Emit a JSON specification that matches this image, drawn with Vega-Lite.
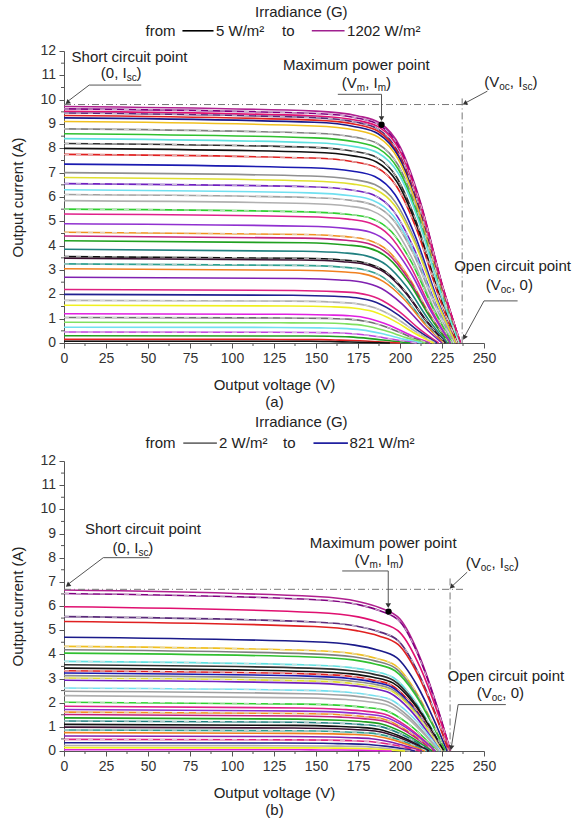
{
"$schema": "https://vega.github.io/schema/vega-lite/v6.json",
"background": "white",
"padding": {"left": 10, "top": 4, "right": 4, "bottom": 4},
"spacing": 6,
"config": {
 "view": {"stroke": null},
 "font": "Liberation Sans",
 "axis": {"grid": false, "labelOverlap": false, "labelFlush": false, "labelFont": "Liberation Sans", "labelFontSize": 14, "labelColor": "#333", "titleFont": "Liberation Sans", "titleFontSize": 15, "titleFontWeight": "normal", "titleColor": "#222", "domainColor": "#555", "tickColor": "#555", "tickSize": 5, "labelPadding": 3}
},
"datasets": {
 "ca": [
{"k":1,"v":0,"i":9.72},{"k":1,"v":150,"i":9.53},{"k":1,"v":175,"i":9.33},{"k":1,"v":188,"i":9.04},{"k":1,"v":200,"i":8.07},{"k":1,"v":212,"i":5.83},{"k":1,"v":225,"i":2.43},{"k":1,"v":236,"i":0},
{"k":2,"v":0,"i":9.62},{"k":2,"v":150,"i":9.43},{"k":2,"v":175,"i":9.24},{"k":2,"v":188,"i":8.95},{"k":2,"v":200,"i":7.98},{"k":2,"v":212,"i":5.77},{"k":2,"v":225,"i":2.41},{"k":2,"v":236,"i":0},
{"k":3,"v":0,"i":9.52},{"k":3,"v":150,"i":9.33},{"k":3,"v":175,"i":9.14},{"k":3,"v":188,"i":8.85},{"k":3,"v":200,"i":7.9},{"k":3,"v":212,"i":5.71},{"k":3,"v":225,"i":2.38},{"k":3,"v":236,"i":0},
{"k":4,"v":0,"i":9.45},{"k":4,"v":149,"i":9.26},{"k":4,"v":174,"i":9.07},{"k":4,"v":187,"i":8.79},{"k":4,"v":199,"i":7.84},{"k":4,"v":211,"i":5.67},{"k":4,"v":224,"i":2.36},{"k":4,"v":235,"i":0},
{"k":5,"v":0,"i":9.35},{"k":5,"v":149,"i":9.16},{"k":5,"v":174,"i":8.98},{"k":5,"v":187,"i":8.7},{"k":5,"v":199,"i":7.76},{"k":5,"v":211,"i":5.61},{"k":5,"v":224,"i":2.34},{"k":5,"v":235,"i":0},
{"k":6,"v":0,"i":9.25},{"k":6,"v":149,"i":9.07},{"k":6,"v":174,"i":8.88},{"k":6,"v":187,"i":8.6},{"k":6,"v":199,"i":7.68},{"k":6,"v":211,"i":5.55},{"k":6,"v":224,"i":2.31},{"k":6,"v":235,"i":0},
{"k":7,"v":0,"i":9.1},{"k":7,"v":149,"i":8.92},{"k":7,"v":174,"i":8.74},{"k":7,"v":187,"i":8.46},{"k":7,"v":199,"i":7.55},{"k":7,"v":211,"i":5.46},{"k":7,"v":224,"i":2.28},{"k":7,"v":235,"i":0},
{"k":8,"v":0,"i":8.8},{"k":8,"v":149,"i":8.62},{"k":8,"v":174,"i":8.45},{"k":8,"v":187,"i":8.18},{"k":8,"v":199,"i":7.3},{"k":8,"v":211,"i":5.28},{"k":8,"v":224,"i":2.2},{"k":8,"v":235,"i":0},
{"k":9,"v":0,"i":8.6},{"k":9,"v":149,"i":8.43},{"k":9,"v":174,"i":8.26},{"k":9,"v":187,"i":8.0},{"k":9,"v":199,"i":7.14},{"k":9,"v":211,"i":5.16},{"k":9,"v":224,"i":2.15},{"k":9,"v":235,"i":0},
{"k":10,"v":0,"i":8.4},{"k":10,"v":149,"i":8.23},{"k":10,"v":174,"i":8.06},{"k":10,"v":187,"i":7.81},{"k":10,"v":199,"i":6.97},{"k":10,"v":211,"i":5.04},{"k":10,"v":224,"i":2.1},{"k":10,"v":235,"i":0},
{"k":11,"v":0,"i":8.2},{"k":11,"v":148,"i":8.04},{"k":11,"v":173,"i":7.87},{"k":11,"v":186,"i":7.63},{"k":11,"v":198,"i":6.81},{"k":11,"v":210,"i":4.92},{"k":11,"v":223,"i":2.05},{"k":11,"v":234,"i":0},
{"k":12,"v":0,"i":8.0},{"k":12,"v":148,"i":7.84},{"k":12,"v":173,"i":7.68},{"k":12,"v":186,"i":7.44},{"k":12,"v":198,"i":6.64},{"k":12,"v":210,"i":4.8},{"k":12,"v":223,"i":2.0},{"k":12,"v":234,"i":0},
{"k":13,"v":0,"i":7.75},{"k":13,"v":148,"i":7.6},{"k":13,"v":173,"i":7.44},{"k":13,"v":186,"i":7.21},{"k":13,"v":198,"i":6.43},{"k":13,"v":210,"i":4.65},{"k":13,"v":223,"i":1.94},{"k":13,"v":234,"i":0},
{"k":14,"v":0,"i":7.35},{"k":14,"v":147,"i":7.2},{"k":14,"v":172,"i":7.06},{"k":14,"v":185,"i":6.84},{"k":14,"v":197,"i":6.1},{"k":14,"v":209,"i":4.41},{"k":14,"v":222,"i":1.84},{"k":14,"v":233,"i":0},
{"k":15,"v":0,"i":7.0},{"k":15,"v":147,"i":6.86},{"k":15,"v":172,"i":6.72},{"k":15,"v":185,"i":6.51},{"k":15,"v":197,"i":5.81},{"k":15,"v":209,"i":4.2},{"k":15,"v":222,"i":1.75},{"k":15,"v":233,"i":0},
{"k":16,"v":0,"i":6.8},{"k":16,"v":147,"i":6.66},{"k":16,"v":172,"i":6.53},{"k":16,"v":185,"i":6.32},{"k":16,"v":197,"i":5.64},{"k":16,"v":209,"i":4.08},{"k":16,"v":222,"i":1.7},{"k":16,"v":233,"i":0},
{"k":17,"v":0,"i":6.55},{"k":17,"v":146,"i":6.42},{"k":17,"v":171,"i":6.29},{"k":17,"v":184,"i":6.09},{"k":17,"v":196,"i":5.44},{"k":17,"v":208,"i":3.93},{"k":17,"v":221,"i":1.64},{"k":17,"v":232,"i":0},
{"k":18,"v":0,"i":6.3},{"k":18,"v":146,"i":6.17},{"k":18,"v":171,"i":6.05},{"k":18,"v":184,"i":5.86},{"k":18,"v":196,"i":5.23},{"k":18,"v":208,"i":3.78},{"k":18,"v":221,"i":1.58},{"k":18,"v":232,"i":0},
{"k":19,"v":0,"i":6.1},{"k":19,"v":146,"i":5.98},{"k":19,"v":171,"i":5.86},{"k":19,"v":184,"i":5.67},{"k":19,"v":196,"i":5.06},{"k":19,"v":208,"i":3.66},{"k":19,"v":221,"i":1.53},{"k":19,"v":232,"i":0},
{"k":20,"v":0,"i":5.85},{"k":20,"v":145,"i":5.73},{"k":20,"v":170,"i":5.62},{"k":20,"v":183,"i":5.44},{"k":20,"v":195,"i":4.86},{"k":20,"v":207,"i":3.51},{"k":20,"v":220,"i":1.46},{"k":20,"v":231,"i":0},
{"k":21,"v":0,"i":5.5},{"k":21,"v":145,"i":5.39},{"k":21,"v":170,"i":5.28},{"k":21,"v":183,"i":5.12},{"k":21,"v":195,"i":4.57},{"k":21,"v":207,"i":3.3},{"k":21,"v":220,"i":1.38},{"k":21,"v":231,"i":0},
{"k":22,"v":0,"i":5.3},{"k":22,"v":144,"i":5.19},{"k":22,"v":169,"i":5.09},{"k":22,"v":182,"i":4.93},{"k":22,"v":194,"i":4.4},{"k":22,"v":206,"i":3.18},{"k":22,"v":219,"i":1.33},{"k":22,"v":230,"i":0},
{"k":23,"v":0,"i":4.9},{"k":23,"v":144,"i":4.8},{"k":23,"v":169,"i":4.7},{"k":23,"v":182,"i":4.56},{"k":23,"v":194,"i":4.07},{"k":23,"v":206,"i":2.94},{"k":23,"v":219,"i":1.23},{"k":23,"v":230,"i":0},
{"k":24,"v":0,"i":4.55},{"k":24,"v":143,"i":4.46},{"k":24,"v":168,"i":4.37},{"k":24,"v":181,"i":4.23},{"k":24,"v":193,"i":3.78},{"k":24,"v":205,"i":2.73},{"k":24,"v":218,"i":1.14},{"k":24,"v":229,"i":0},
{"k":25,"v":0,"i":4.4},{"k":25,"v":143,"i":4.31},{"k":25,"v":168,"i":4.22},{"k":25,"v":181,"i":4.09},{"k":25,"v":193,"i":3.65},{"k":25,"v":205,"i":2.64},{"k":25,"v":218,"i":1.1},{"k":25,"v":229,"i":0},
{"k":26,"v":0,"i":4.2},{"k":26,"v":143,"i":4.12},{"k":26,"v":168,"i":4.03},{"k":26,"v":181,"i":3.91},{"k":26,"v":193,"i":3.49},{"k":26,"v":205,"i":2.52},{"k":26,"v":218,"i":1.05},{"k":26,"v":229,"i":0},
{"k":27,"v":0,"i":3.85},{"k":27,"v":142,"i":3.77},{"k":27,"v":167,"i":3.7},{"k":27,"v":180,"i":3.58},{"k":27,"v":192,"i":3.2},{"k":27,"v":204,"i":2.31},{"k":27,"v":217,"i":0.96},{"k":27,"v":228,"i":0},
{"k":28,"v":0,"i":3.55},{"k":28,"v":141,"i":3.48},{"k":28,"v":166,"i":3.41},{"k":28,"v":179,"i":3.3},{"k":28,"v":191,"i":2.95},{"k":28,"v":203,"i":2.13},{"k":28,"v":216,"i":0.89},{"k":28,"v":227,"i":0},
{"k":29,"v":0,"i":3.48},{"k":29,"v":141,"i":3.41},{"k":29,"v":166,"i":3.34},{"k":29,"v":179,"i":3.24},{"k":29,"v":191,"i":2.89},{"k":29,"v":203,"i":2.09},{"k":29,"v":216,"i":0.87},{"k":29,"v":227,"i":0},
{"k":30,"v":0,"i":3.25},{"k":30,"v":140,"i":3.19},{"k":30,"v":165,"i":3.12},{"k":30,"v":178,"i":3.02},{"k":30,"v":190,"i":2.7},{"k":30,"v":202,"i":1.95},{"k":30,"v":215,"i":0.81},{"k":30,"v":226,"i":0},
{"k":31,"v":0,"i":3.05},{"k":31,"v":140,"i":2.99},{"k":31,"v":165,"i":2.93},{"k":31,"v":178,"i":2.84},{"k":31,"v":190,"i":2.53},{"k":31,"v":202,"i":1.83},{"k":31,"v":215,"i":0.76},{"k":31,"v":226,"i":0},
{"k":32,"v":0,"i":2.7},{"k":32,"v":139,"i":2.65},{"k":32,"v":164,"i":2.59},{"k":32,"v":177,"i":2.51},{"k":32,"v":189,"i":2.24},{"k":32,"v":201,"i":1.62},{"k":32,"v":214,"i":0.68},{"k":32,"v":225,"i":0},
{"k":33,"v":0,"i":2.2},{"k":33,"v":137,"i":2.16},{"k":33,"v":162,"i":2.11},{"k":33,"v":175,"i":2.05},{"k":33,"v":187,"i":1.83},{"k":33,"v":199,"i":1.32},{"k":33,"v":212,"i":0.55},{"k":33,"v":223,"i":0},
{"k":34,"v":0,"i":2.0},{"k":34,"v":136,"i":1.96},{"k":34,"v":161,"i":1.92},{"k":34,"v":174,"i":1.86},{"k":34,"v":186,"i":1.66},{"k":34,"v":198,"i":1.2},{"k":34,"v":211,"i":0.5},{"k":34,"v":222,"i":0},
{"k":35,"v":0,"i":1.75},{"k":35,"v":135,"i":1.72},{"k":35,"v":160,"i":1.68},{"k":35,"v":173,"i":1.63},{"k":35,"v":185,"i":1.45},{"k":35,"v":197,"i":1.05},{"k":35,"v":210,"i":0.44},{"k":35,"v":221,"i":0},
{"k":36,"v":0,"i":1.55},{"k":36,"v":134,"i":1.52},{"k":36,"v":159,"i":1.49},{"k":36,"v":172,"i":1.44},{"k":36,"v":184,"i":1.29},{"k":36,"v":196,"i":0.93},{"k":36,"v":209,"i":0.39},{"k":36,"v":220,"i":0},
{"k":37,"v":0,"i":1.2},{"k":37,"v":132,"i":1.18},{"k":37,"v":157,"i":1.15},{"k":37,"v":170,"i":1.12},{"k":37,"v":182,"i":1.0},{"k":37,"v":194,"i":0.72},{"k":37,"v":207,"i":0.3},{"k":37,"v":218,"i":0},
{"k":38,"v":0,"i":1.05},{"k":38,"v":131,"i":1.03},{"k":38,"v":156,"i":1.01},{"k":38,"v":169,"i":0.98},{"k":38,"v":181,"i":0.87},{"k":38,"v":193,"i":0.63},{"k":38,"v":206,"i":0.26},{"k":38,"v":217,"i":0},
{"k":39,"v":0,"i":0.85},{"k":39,"v":129,"i":0.83},{"k":39,"v":154,"i":0.82},{"k":39,"v":167,"i":0.79},{"k":39,"v":179,"i":0.71},{"k":39,"v":191,"i":0.51},{"k":39,"v":204,"i":0.21},{"k":39,"v":215,"i":0},
{"k":40,"v":0,"i":0.65},{"k":40,"v":127,"i":0.64},{"k":40,"v":152,"i":0.62},{"k":40,"v":165,"i":0.6},{"k":40,"v":177,"i":0.54},{"k":40,"v":189,"i":0.39},{"k":40,"v":202,"i":0.16},{"k":40,"v":213,"i":0},
{"k":41,"v":0,"i":0.45},{"k":41,"v":124,"i":0.44},{"k":41,"v":149,"i":0.43},{"k":41,"v":162,"i":0.42},{"k":41,"v":174,"i":0.37},{"k":41,"v":186,"i":0.27},{"k":41,"v":199,"i":0.11},{"k":41,"v":210,"i":0},
{"k":42,"v":0,"i":0.3},{"k":42,"v":120,"i":0.29},{"k":42,"v":145,"i":0.29},{"k":42,"v":158,"i":0.28},{"k":42,"v":170,"i":0.25},{"k":42,"v":182,"i":0.18},{"k":42,"v":195,"i":0.08},{"k":42,"v":206,"i":0},
{"k":43,"v":0,"i":0.15},{"k":43,"v":114,"i":0.15},{"k":43,"v":139,"i":0.14},{"k":43,"v":152,"i":0.14},{"k":43,"v":164,"i":0.12},{"k":43,"v":176,"i":0.09},{"k":43,"v":189,"i":0.04},{"k":43,"v":200,"i":0},
{"k":44,"v":0,"i":0.07},{"k":44,"v":108,"i":0.07},{"k":44,"v":133,"i":0.07},{"k":44,"v":146,"i":0.07},{"k":44,"v":158,"i":0.06},{"k":44,"v":170,"i":0.04},{"k":44,"v":183,"i":0.02},{"k":44,"v":194,"i":0}
 ],
 "cb": [
{"k":1,"v":0,"i":6.66},{"k":1,"v":150,"i":6.39},{"k":1,"v":175,"i":6.19},{"k":1,"v":188,"i":5.93},{"k":1,"v":200,"i":5.46},{"k":1,"v":212,"i":3.86},{"k":1,"v":222,"i":1.86},{"k":1,"v":230,"i":0},
{"k":2,"v":0,"i":6.52},{"k":2,"v":150,"i":6.26},{"k":2,"v":175,"i":6.06},{"k":2,"v":188,"i":5.8},{"k":2,"v":200,"i":5.35},{"k":2,"v":212,"i":3.78},{"k":2,"v":222,"i":1.83},{"k":2,"v":230,"i":0},
{"k":3,"v":0,"i":5.97},{"k":3,"v":150,"i":5.73},{"k":3,"v":175,"i":5.55},{"k":3,"v":188,"i":5.31},{"k":3,"v":200,"i":4.9},{"k":3,"v":212,"i":3.46},{"k":3,"v":222,"i":1.67},{"k":3,"v":230,"i":0},
{"k":4,"v":0,"i":5.56},{"k":4,"v":149,"i":5.34},{"k":4,"v":174,"i":5.17},{"k":4,"v":187,"i":4.95},{"k":4,"v":199,"i":4.56},{"k":4,"v":211,"i":3.22},{"k":4,"v":221,"i":1.56},{"k":4,"v":229,"i":0},
{"k":5,"v":0,"i":5.36},{"k":5,"v":149,"i":5.15},{"k":5,"v":174,"i":4.98},{"k":5,"v":187,"i":4.77},{"k":5,"v":199,"i":4.4},{"k":5,"v":211,"i":3.11},{"k":5,"v":221,"i":1.5},{"k":5,"v":229,"i":0},
{"k":6,"v":0,"i":4.71},{"k":6,"v":148,"i":4.52},{"k":6,"v":173,"i":4.38},{"k":6,"v":186,"i":4.19},{"k":6,"v":198,"i":3.86},{"k":6,"v":210,"i":2.73},{"k":6,"v":220,"i":1.32},{"k":6,"v":228,"i":0},
{"k":7,"v":0,"i":4.33},{"k":7,"v":147,"i":4.16},{"k":7,"v":172,"i":4.03},{"k":7,"v":185,"i":3.85},{"k":7,"v":197,"i":3.55},{"k":7,"v":209,"i":2.51},{"k":7,"v":219,"i":1.21},{"k":7,"v":227,"i":0},
{"k":8,"v":0,"i":4.19},{"k":8,"v":147,"i":4.02},{"k":8,"v":172,"i":3.9},{"k":8,"v":185,"i":3.73},{"k":8,"v":197,"i":3.44},{"k":8,"v":209,"i":2.43},{"k":8,"v":219,"i":1.17},{"k":8,"v":227,"i":0},
{"k":9,"v":0,"i":4.05},{"k":9,"v":147,"i":3.89},{"k":9,"v":172,"i":3.77},{"k":9,"v":185,"i":3.6},{"k":9,"v":197,"i":3.32},{"k":9,"v":209,"i":2.35},{"k":9,"v":219,"i":1.13},{"k":9,"v":227,"i":0},
{"k":10,"v":0,"i":3.71},{"k":10,"v":146,"i":3.56},{"k":10,"v":171,"i":3.45},{"k":10,"v":184,"i":3.3},{"k":10,"v":196,"i":3.04},{"k":10,"v":208,"i":2.15},{"k":10,"v":218,"i":1.04},{"k":10,"v":226,"i":0},
{"k":11,"v":0,"i":3.57},{"k":11,"v":146,"i":3.43},{"k":11,"v":171,"i":3.32},{"k":11,"v":184,"i":3.18},{"k":11,"v":196,"i":2.93},{"k":11,"v":208,"i":2.07},{"k":11,"v":218,"i":1.0},{"k":11,"v":226,"i":0},
{"k":12,"v":0,"i":3.43},{"k":12,"v":146,"i":3.29},{"k":12,"v":171,"i":3.19},{"k":12,"v":184,"i":3.05},{"k":12,"v":196,"i":2.81},{"k":12,"v":208,"i":1.99},{"k":12,"v":218,"i":0.96},{"k":12,"v":226,"i":0},
{"k":13,"v":0,"i":3.32},{"k":13,"v":145,"i":3.19},{"k":13,"v":170,"i":3.09},{"k":13,"v":183,"i":2.95},{"k":13,"v":195,"i":2.72},{"k":13,"v":207,"i":1.93},{"k":13,"v":217,"i":0.93},{"k":13,"v":225,"i":0},
{"k":14,"v":0,"i":3.23},{"k":14,"v":145,"i":3.1},{"k":14,"v":170,"i":3.0},{"k":14,"v":183,"i":2.87},{"k":14,"v":195,"i":2.65},{"k":14,"v":207,"i":1.87},{"k":14,"v":217,"i":0.9},{"k":14,"v":225,"i":0},
{"k":15,"v":0,"i":3.12},{"k":15,"v":145,"i":3.0},{"k":15,"v":170,"i":2.9},{"k":15,"v":183,"i":2.78},{"k":15,"v":195,"i":2.56},{"k":15,"v":207,"i":1.81},{"k":15,"v":217,"i":0.87},{"k":15,"v":225,"i":0},
{"k":16,"v":0,"i":3.02},{"k":16,"v":145,"i":2.9},{"k":16,"v":170,"i":2.81},{"k":16,"v":183,"i":2.69},{"k":16,"v":195,"i":2.48},{"k":16,"v":207,"i":1.75},{"k":16,"v":217,"i":0.85},{"k":16,"v":225,"i":0},
{"k":17,"v":0,"i":2.93},{"k":17,"v":144,"i":2.81},{"k":17,"v":169,"i":2.72},{"k":17,"v":182,"i":2.61},{"k":17,"v":194,"i":2.4},{"k":17,"v":206,"i":1.7},{"k":17,"v":216,"i":0.82},{"k":17,"v":224,"i":0},
{"k":18,"v":0,"i":2.61},{"k":18,"v":144,"i":2.51},{"k":18,"v":169,"i":2.43},{"k":18,"v":182,"i":2.32},{"k":18,"v":194,"i":2.14},{"k":18,"v":206,"i":1.51},{"k":18,"v":216,"i":0.73},{"k":18,"v":224,"i":0},
{"k":19,"v":0,"i":2.47},{"k":19,"v":143,"i":2.37},{"k":19,"v":168,"i":2.3},{"k":19,"v":181,"i":2.2},{"k":19,"v":193,"i":2.03},{"k":19,"v":205,"i":1.43},{"k":19,"v":215,"i":0.69},{"k":19,"v":223,"i":0},
{"k":20,"v":0,"i":2.29},{"k":20,"v":143,"i":2.2},{"k":20,"v":168,"i":2.13},{"k":20,"v":181,"i":2.04},{"k":20,"v":193,"i":1.88},{"k":20,"v":205,"i":1.33},{"k":20,"v":215,"i":0.64},{"k":20,"v":223,"i":0},
{"k":21,"v":0,"i":2.02},{"k":21,"v":142,"i":1.94},{"k":21,"v":167,"i":1.88},{"k":21,"v":180,"i":1.8},{"k":21,"v":192,"i":1.66},{"k":21,"v":204,"i":1.17},{"k":21,"v":214,"i":0.57},{"k":21,"v":222,"i":0},
{"k":22,"v":0,"i":1.85},{"k":22,"v":141,"i":1.78},{"k":22,"v":166,"i":1.72},{"k":22,"v":179,"i":1.65},{"k":22,"v":191,"i":1.52},{"k":22,"v":203,"i":1.07},{"k":22,"v":213,"i":0.52},{"k":22,"v":221,"i":0},
{"k":23,"v":0,"i":1.72},{"k":23,"v":141,"i":1.65},{"k":23,"v":166,"i":1.6},{"k":23,"v":179,"i":1.53},{"k":23,"v":191,"i":1.41},{"k":23,"v":203,"i":1.0},{"k":23,"v":213,"i":0.48},{"k":23,"v":221,"i":0},
{"k":24,"v":0,"i":1.61},{"k":24,"v":140,"i":1.55},{"k":24,"v":165,"i":1.5},{"k":24,"v":178,"i":1.43},{"k":24,"v":190,"i":1.32},{"k":24,"v":202,"i":0.93},{"k":24,"v":212,"i":0.45},{"k":24,"v":220,"i":0},
{"k":25,"v":0,"i":1.51},{"k":25,"v":140,"i":1.45},{"k":25,"v":165,"i":1.4},{"k":25,"v":178,"i":1.34},{"k":25,"v":190,"i":1.24},{"k":25,"v":202,"i":0.88},{"k":25,"v":212,"i":0.42},{"k":25,"v":220,"i":0},
{"k":26,"v":0,"i":1.37},{"k":26,"v":139,"i":1.32},{"k":26,"v":164,"i":1.27},{"k":26,"v":177,"i":1.22},{"k":26,"v":189,"i":1.12},{"k":26,"v":201,"i":0.79},{"k":26,"v":211,"i":0.38},{"k":26,"v":219,"i":0},
{"k":27,"v":0,"i":1.24},{"k":27,"v":138,"i":1.19},{"k":27,"v":163,"i":1.15},{"k":27,"v":176,"i":1.1},{"k":27,"v":188,"i":1.02},{"k":27,"v":200,"i":0.72},{"k":27,"v":210,"i":0.35},{"k":27,"v":218,"i":0},
{"k":28,"v":0,"i":1.1},{"k":28,"v":137,"i":1.06},{"k":28,"v":162,"i":1.02},{"k":28,"v":175,"i":0.98},{"k":28,"v":187,"i":0.9},{"k":28,"v":199,"i":0.64},{"k":28,"v":209,"i":0.31},{"k":28,"v":217,"i":0},
{"k":29,"v":0,"i":0.99},{"k":29,"v":137,"i":0.95},{"k":29,"v":162,"i":0.92},{"k":29,"v":175,"i":0.88},{"k":29,"v":187,"i":0.81},{"k":29,"v":199,"i":0.57},{"k":29,"v":209,"i":0.28},{"k":29,"v":217,"i":0},
{"k":30,"v":0,"i":0.87},{"k":30,"v":136,"i":0.84},{"k":30,"v":161,"i":0.81},{"k":30,"v":174,"i":0.77},{"k":30,"v":186,"i":0.71},{"k":30,"v":198,"i":0.5},{"k":30,"v":208,"i":0.24},{"k":30,"v":216,"i":0},
{"k":31,"v":0,"i":0.76},{"k":31,"v":135,"i":0.73},{"k":31,"v":160,"i":0.71},{"k":31,"v":173,"i":0.68},{"k":31,"v":185,"i":0.62},{"k":31,"v":197,"i":0.44},{"k":31,"v":207,"i":0.21},{"k":31,"v":215,"i":0},
{"k":32,"v":0,"i":0.62},{"k":32,"v":133,"i":0.6},{"k":32,"v":158,"i":0.58},{"k":32,"v":171,"i":0.55},{"k":32,"v":183,"i":0.51},{"k":32,"v":195,"i":0.36},{"k":32,"v":205,"i":0.17},{"k":32,"v":213,"i":0},
{"k":33,"v":0,"i":0.48},{"k":33,"v":132,"i":0.46},{"k":33,"v":157,"i":0.45},{"k":33,"v":170,"i":0.43},{"k":33,"v":182,"i":0.39},{"k":33,"v":194,"i":0.28},{"k":33,"v":204,"i":0.13},{"k":33,"v":212,"i":0},
{"k":34,"v":0,"i":0.34},{"k":34,"v":129,"i":0.33},{"k":34,"v":154,"i":0.32},{"k":34,"v":167,"i":0.3},{"k":34,"v":179,"i":0.28},{"k":34,"v":191,"i":0.2},{"k":34,"v":201,"i":0.1},{"k":34,"v":209,"i":0},
{"k":35,"v":0,"i":0.23},{"k":35,"v":126,"i":0.22},{"k":35,"v":151,"i":0.21},{"k":35,"v":164,"i":0.2},{"k":35,"v":176,"i":0.19},{"k":35,"v":188,"i":0.13},{"k":35,"v":198,"i":0.06},{"k":35,"v":206,"i":0},
{"k":36,"v":0,"i":0.14},{"k":36,"v":123,"i":0.13},{"k":36,"v":148,"i":0.13},{"k":36,"v":161,"i":0.12},{"k":36,"v":173,"i":0.11},{"k":36,"v":185,"i":0.08},{"k":36,"v":195,"i":0.04},{"k":36,"v":203,"i":0},
{"k":37,"v":0,"i":0.05},{"k":37,"v":115,"i":0.05},{"k":37,"v":140,"i":0.05},{"k":37,"v":153,"i":0.04},{"k":37,"v":165,"i":0.04},{"k":37,"v":177,"i":0.03},{"k":37,"v":187,"i":0.01},{"k":37,"v":195,"i":0}
 ],
 "xminor": [{"v":12.5,"i":0},{"v":37.5,"i":0},{"v":62.5,"i":0},{"v":87.5,"i":0},{"v":112.5,"i":0},{"v":137.5,"i":0},{"v":162.5,"i":0},{"v":187.5,"i":0},{"v":212.5,"i":0},{"v":237.5,"i":0}],
 "yminor": [{"v":0,"i":0.5},{"v":0,"i":1.5},{"v":0,"i":2.5},{"v":0,"i":3.5},{"v":0,"i":4.5},{"v":0,"i":5.5},{"v":0,"i":6.5},{"v":0,"i":7.5},{"v":0,"i":8.5},{"v":0,"i":9.5},{"v":0,"i":10.5},{"v":0,"i":11.5}],
 "ylab": [{"v":0,"i":0},{"v":0,"i":1},{"v":0,"i":2},{"v":0,"i":3},{"v":0,"i":4},{"v":0,"i":5},{"v":0,"i":6},{"v":0,"i":7},{"v":0,"i":8},{"v":0,"i":9},{"v":0,"i":10},{"v":0,"i":11},{"v":0,"i":12}]
},
"vconcat": [
{
 "width": 420, "height": 292,
 "encoding": {
  "x": {"field": "v", "type": "quantitative", "scale": {"domain": [0, 250], "nice": false, "zero": false}, "axis": {"values": [0,25,50,75,100,125,150,175,200,225,250], "title": ["Output voltage (V)", "(a)"], "titlePadding": 12, "titleLineHeight": 17}},
  "y": {"field": "i", "type": "quantitative", "scale": {"domain": [0, 12], "nice": false}, "axis": {"values": [0,1,2,3,4,5,6,7,8,9,10,11,12], "labels": false, "title": "Output current (A)", "titlePadding": 33}}
 },
 "layer": [
  {"data": {"name": "ca"}, "mark": {"type": "line", "interpolate": "monotone", "strokeWidth": 1.6},
   "encoding": {
    "color": {"field": "k", "type": "ordinal", "legend": null, "scale": {"domain": [1,2,3,4,5,6,7,8,9,10,11,12,13,14,15,16,17,18,19,20,21,22,23,24,25,26,27,28,29,30,31,32,33,34,35,36,37,38,39,40,41,42,43,44], "range": ["#b0208f","#800080","#e01070","#5a2a7a","#e02020","#1a1a8a","#f0c020","#808080","#30c030","#60e0e0","#303030","#101010","#e02020","#1a1ab0","#909090","#e0e030","#7020c0","#70e0f0","#a0a0a0","#b0b0b0","#30d030","#e0208a","#9030d0","#f09020","#c02080","#20a020","#208080","#101010","#3a1030","#30a090","#f08020","#8020b0","#e02080","#202090","#b0b0b0","#f0f020","#e020e0","#707070","#80e060","#70e0f0","#c040e0","#20a020","#e02020","#101010"]}}
   }},
  {"data": {"name": "ca"}, "transform": [{"filter": {"field": "k", "oneOf": [2,4,8,11,13,17,19,21,24,28,30,35,38,41]}}],
   "mark": {"type": "line", "interpolate": "monotone", "strokeWidth": 1, "strokeDash": [5, 7], "color": "#dddddd", "opacity": 0.85},
   "encoding": {"detail": {"field": "k", "type": "nominal"}}},
  {"data": {"values": [{"v": 0, "i": 9.8, "v2": 240, "i2": 9.8}, {"v": 237, "i": 10.05, "v2": 237, "i2": 0}]},
   "mark": {"type": "rule", "strokeDash": [7, 3, 1, 3], "color": "#777777", "strokeWidth": 1},
   "encoding": {"x2": {"field": "v2"}, "y2": {"field": "i2"}}},
  {"data": {"values": [{"v": 15, "i": 10.6, "v2": 46, "i2": 10.6}, {"v": 15, "i": 10.6, "v2": 2.6, "i2": 9.95}, {"v": 163, "i": 10.22, "v2": 189, "i2": 10.22}, {"v": 189, "i": 10.22, "v2": 189, "i2": 9.3}, {"v": 252, "i": 10.35, "v2": 239.3, "i2": 9.88}, {"v": 250, "i": 1.73, "v2": 270, "i2": 1.73}, {"v": 250, "i": 1.73, "v2": 238.7, "i2": 0.3}]},
   "mark": {"type": "rule", "color": "#555555", "strokeWidth": 1},
   "encoding": {"x2": {"field": "v2"}, "y2": {"field": "i2"}}},
  {"data": {"values": [{"v": 2.4, "i": 9.9}]}, "mark": {"type": "point", "shape": "triangle", "filled": true, "size": 30, "color": "#333333", "opacity": 1, "angle": 231}},
  {"data": {"values": [{"v": 189, "i": 9.25}]}, "mark": {"type": "point", "shape": "triangle", "filled": true, "size": 30, "color": "#333333", "opacity": 1, "angle": 180}},
  {"data": {"values": [{"v": 239, "i": 9.86}]}, "mark": {"type": "point", "shape": "triangle", "filled": true, "size": 30, "color": "#333333", "opacity": 1, "angle": 242}},
  {"data": {"values": [{"v": 238.5, "i": 0.25}]}, "mark": {"type": "point", "shape": "triangle", "filled": true, "size": 30, "color": "#333333", "opacity": 1, "angle": 209}},
  {"data": {"values": [{"v": 189, "i": 8.97}]}, "mark": {"type": "point", "shape": "circle", "filled": true, "size": 40, "color": "#000000", "opacity": 1}},
  {"data": {"values": [{"v": 39, "i": 11.76, "t": "Short circuit point"}, {"v": 174, "i": 11.43, "t": "Maximum power point"}, {"v": 267, "i": 3.17, "t": "Open circuit point"}]},
   "mark": {"type": "text", "font": "Liberation Sans", "fontSize": 15, "color": "#222222", "align": "center", "baseline": "middle"},
   "encoding": {"text": {"field": "t"}}},
  {"data": {"values": [
    {"v": 113.7, "i": 13.62, "t": "Irradiance (G)"}, {"v": 48.5, "i": 12.83, "t": "from"}, {"v": 90.5, "i": 12.83, "t": "5 W/m²"}, {"v": 129.8, "i": 12.83, "t": "to"}, {"v": 168.5, "i": 12.83, "t": "1202 W/m²"},
    {"v": 21.9, "i": 11.08, "t": "(0, I"}, {"v": 43.2, "i": 11.08, "t": ")"},
    {"v": 165.4, "i": 10.7, "t": "(V"}, {"v": 179.3, "i": 10.7, "t": ", I"}, {"v": 191.7, "i": 10.7, "t": ")"},
    {"v": 250.2, "i": 10.72, "t": "(V"}, {"v": 265.4, "i": 10.72, "t": ", I"}, {"v": 278.8, "i": 10.72, "t": ")"},
    {"v": 251, "i": 2.4, "t": "(V"}, {"v": 266.2, "i": 2.4, "t": ", 0)"}]},
   "mark": {"type": "text", "font": "Liberation Sans", "fontSize": 15, "color": "#222222", "align": "left", "baseline": "middle"},
   "encoding": {"text": {"field": "t"}}},
  {"data": {"values": [{"v": 37.3, "i": 11.08, "t": "sc"}, {"v": 174.3, "i": 10.7, "t": "m"}, {"v": 186.7, "i": 10.7, "t": "m"}, {"v": 259.1, "i": 10.72, "t": "oc"}, {"v": 272.9, "i": 10.72, "t": "sc"}, {"v": 259.9, "i": 2.4, "t": "oc"}]},
   "mark": {"type": "text", "font": "Liberation Sans", "fontSize": 10, "color": "#222222", "align": "left", "baseline": "middle", "dy": 5},
   "encoding": {"text": {"field": "t"}}},
  {"data": {"name": "ylab"}, "mark": {"type": "text", "font": "Liberation Sans", "fontSize": 14, "color": "#333333", "align": "right", "baseline": "middle", "dx": -8},
   "encoding": {"text": {"field": "i", "type": "quantitative"}}},
  {"data": {"values": [{"v": 70.5, "v2": 89, "i": 12.83}]}, "mark": {"type": "rule", "color": "#000000", "strokeWidth": 1.6},
   "encoding": {"x2": {"field": "v2"}}},
  {"data": {"values": [{"v": 147.5, "v2": 167, "i": 12.83}]}, "mark": {"type": "rule", "color": "#a0208f", "strokeWidth": 1.6},
   "encoding": {"x2": {"field": "v2"}}},
  {"data": {"name": "xminor"}, "mark": {"type": "tick", "orient": "vertical", "size": 3, "thickness": 1, "yOffset": 1.5, "color": "#555555", "opacity": 1}},
  {"data": {"name": "yminor"}, "mark": {"type": "tick", "orient": "horizontal", "size": 3, "thickness": 1, "xOffset": -1.5, "color": "#555555", "opacity": 1}}
 ]
},
{
 "width": 420, "height": 290,
 "encoding": {
  "x": {"field": "v", "type": "quantitative", "scale": {"domain": [0, 250], "nice": false, "zero": false}, "axis": {"values": [0,25,50,75,100,125,150,175,200,225,250], "title": ["Output voltage (V)", "(b)"], "titlePadding": 12, "titleLineHeight": 17}},
  "y": {"field": "i", "type": "quantitative", "scale": {"domain": [0, 12], "nice": false}, "axis": {"values": [0,1,2,3,4,5,6,7,8,9,10,11,12], "labels": false, "title": "Output current (A)", "titlePadding": 33}}
 },
 "layer": [
  {"data": {"name": "cb"}, "mark": {"type": "line", "interpolate": "monotone", "strokeWidth": 1.6},
   "encoding": {
    "color": {"field": "k", "type": "ordinal", "legend": null, "scale": {"domain": [1,2,3,4,5,6,7,8,9,10,11,12,13,14,15,16,17,18,19,20,21,22,23,24,25,26,27,28,29,30,31,32,33,34,35,36,37], "range": ["#2a2a9a","#8b1a4a","#e03030","#8030a0","#e06060","#3030e0","#208080","#20a020","#701010","#303090","#d0c000","#808000","#30c0c0","#30c030","#e030e0","#e02020","#101010","#a0a0a0","#c8c8c8","#d02020","#101060","#e0e000","#20c060","#e05080","#909090","#808020","#f060a0","#c020c0","#202080","#20a060","#40c0e0","#e03030","#3050e0","#e0d000","#20b020","#e02020","#303030"]}}
   }},
  {"data": {"name": "cb"}, "transform": [{"filter": {"field": "k", "oneOf": [2,4,7,10,13,16,18,21,24,27,30,33]}}],
   "mark": {"type": "line", "interpolate": "monotone", "strokeWidth": 1, "strokeDash": [5, 7], "color": "#dddddd", "opacity": 0.85},
   "encoding": {"detail": {"field": "k", "type": "nominal"}}},
  {"data": {"values": [{"v": 0, "i": 6.69, "v2": 238, "i2": 6.69}, {"v": 229.8, "i": 7.14, "v2": 229.8, "i2": 0}]},
   "mark": {"type": "rule", "strokeDash": [7, 3, 1, 3], "color": "#777777", "strokeWidth": 1},
   "encoding": {"x2": {"field": "v2"}, "y2": {"field": "i2"}}},
  {"data": {"values": [{"v": 23.4, "i": 8.0, "v2": 50.8, "i2": 8.0}, {"v": 23.4, "i": 8.0, "v2": 2.8, "i2": 6.92}, {"v": 165.6, "i": 7.45, "v2": 193, "i2": 7.45}, {"v": 193, "i": 7.45, "v2": 193, "i2": 6.1}, {"v": 240, "i": 7.4, "v2": 231.3, "i2": 6.84}, {"v": 234.6, "i": 1.92, "v2": 263, "i2": 1.92}, {"v": 234.6, "i": 1.92, "v2": 230.7, "i2": 0.22}]},
   "mark": {"type": "rule", "color": "#555555", "strokeWidth": 1},
   "encoding": {"x2": {"field": "v2"}, "y2": {"field": "i2"}}},
  {"data": {"values": [{"v": 2.6, "i": 6.88}]}, "mark": {"type": "point", "shape": "triangle", "filled": true, "size": 30, "color": "#333333", "opacity": 1, "angle": 232}},
  {"data": {"values": [{"v": 193, "i": 6.05}]}, "mark": {"type": "point", "shape": "triangle", "filled": true, "size": 30, "color": "#333333", "opacity": 1, "angle": 180}},
  {"data": {"values": [{"v": 231, "i": 6.81}]}, "mark": {"type": "point", "shape": "triangle", "filled": true, "size": 30, "color": "#333333", "opacity": 1, "angle": 226}},
  {"data": {"values": [{"v": 230.6, "i": 0.17}]}, "mark": {"type": "point", "shape": "triangle", "filled": true, "size": 30, "color": "#333333", "opacity": 1, "angle": 189}},
  {"data": {"values": [{"v": 193.2, "i": 5.77}]}, "mark": {"type": "point", "shape": "circle", "filled": true, "size": 40, "color": "#000000", "opacity": 1}},
  {"data": {"values": [{"v": 47, "i": 9.2, "t": "Short circuit point"}, {"v": 190, "i": 8.6, "t": "Maximum power point"}, {"v": 263, "i": 3.09, "t": "Open circuit point"}]},
   "mark": {"type": "text", "font": "Liberation Sans", "fontSize": 15, "color": "#222222", "align": "center", "baseline": "middle"},
   "encoding": {"text": {"field": "t"}}},
  {"data": {"values": [
    {"v": 113.7, "i": 13.6, "t": "Irradiance (G)"}, {"v": 48.5, "i": 12.74, "t": "from"}, {"v": 92.3, "i": 12.74, "t": "2 W/m²"}, {"v": 130.4, "i": 12.74, "t": "to"}, {"v": 170, "i": 12.74, "t": "821 W/m²"},
    {"v": 28.9, "i": 8.4, "t": "(0, I"}, {"v": 50.2, "i": 8.4, "t": ")"},
    {"v": 172.9, "i": 7.9, "t": "(V"}, {"v": 186.8, "i": 7.9, "t": ", I"}, {"v": 199.2, "i": 7.9, "t": ")"},
    {"v": 239.2, "i": 7.76, "t": "(V"}, {"v": 254.4, "i": 7.76, "t": ", I"}, {"v": 267.8, "i": 7.76, "t": ")"},
    {"v": 245.7, "i": 2.4, "t": "(V"}, {"v": 260.9, "i": 2.4, "t": ", 0)"}]},
   "mark": {"type": "text", "font": "Liberation Sans", "fontSize": 15, "color": "#222222", "align": "left", "baseline": "middle"},
   "encoding": {"text": {"field": "t"}}},
  {"data": {"values": [{"v": 44.3, "i": 8.4, "t": "sc"}, {"v": 181.8, "i": 7.9, "t": "m"}, {"v": 194.2, "i": 7.9, "t": "m"}, {"v": 248.1, "i": 7.76, "t": "oc"}, {"v": 261.9, "i": 7.76, "t": "sc"}, {"v": 254.6, "i": 2.4, "t": "oc"}]},
   "mark": {"type": "text", "font": "Liberation Sans", "fontSize": 10, "color": "#222222", "align": "left", "baseline": "middle", "dy": 5},
   "encoding": {"text": {"field": "t"}}},
  {"data": {"name": "ylab"}, "mark": {"type": "text", "font": "Liberation Sans", "fontSize": 14, "color": "#333333", "align": "right", "baseline": "middle", "dx": -8},
   "encoding": {"text": {"field": "i", "type": "quantitative"}}},
  {"data": {"values": [{"v": 71, "v2": 91, "i": 12.74}]}, "mark": {"type": "rule", "color": "#707070", "strokeWidth": 1.6},
   "encoding": {"x2": {"field": "v2"}}},
  {"data": {"values": [{"v": 148.5, "v2": 169, "i": 12.74}]}, "mark": {"type": "rule", "color": "#2020a0", "strokeWidth": 1.6},
   "encoding": {"x2": {"field": "v2"}}},
  {"data": {"name": "xminor"}, "mark": {"type": "tick", "orient": "vertical", "size": 3, "thickness": 1, "yOffset": 1.5, "color": "#555555", "opacity": 1}},
  {"data": {"name": "yminor"}, "mark": {"type": "tick", "orient": "horizontal", "size": 3, "thickness": 1, "xOffset": -1.5, "color": "#555555", "opacity": 1}}
 ]
}
]
}
